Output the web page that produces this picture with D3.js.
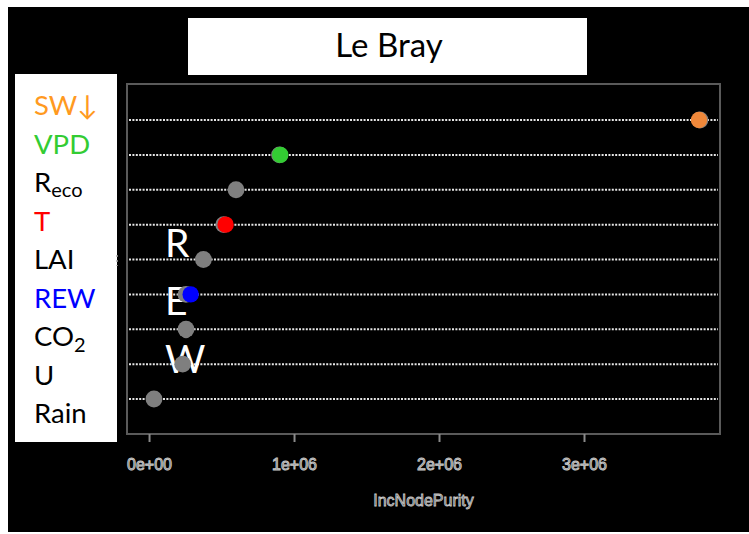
<!DOCTYPE html>
<html><head><meta charset="utf-8">
<script src="https://cdn.jsdelivr.net/npm/d3@7/dist/d3.min.js"></script>
<style>html,body{margin:0;padding:0;background:#fff;}svg{display:block;}</style>
</head><body>
<svg id="c" width="749" height="534"></svg>
<script>
// ---- data ----
const title = "Le Bray";
const variables = ["SW↓", "VPD", "Reco", "T", "LAI", "REW", "CO2", "U", "Rain"];
const labelColors = ["#FF9A1F", "#33CC33", "#000000", "#FF0000", "#000000", "#0000FF", "#000000", "#000000", "#000000"];
// gray (base) points, IncNodePurity
const grayValues = [3.80e6, 0.90e6, 0.60e6, 0.515e6, 0.375e6, 0.255e6, 0.255e6, 0.232e6, 0.034e6];
// coloured overlay points
const overlayVars = ["SW↓", "VPD", "T", "REW"];
const overlayValues = [3.793e6, 0.905e6, 0.528e6, 0.287e6];
const overlayColors = ["#F0883A", "#33CC33", "#FF0000", "#0000FF"];
const xTicks = [0, 1e6, 2e6, 3e6];
const xTickLabels = ["0e+00", "1e+06", "2e+06", "3e+06"];
const xTitle = "IncNodePurity";
const sideLetters = ["R", "E", "W"];

(function () {
const svg = d3.select("#c");
// black background
svg.append("rect").attr("x", 8).attr("y", 7).attr("width", 741).attr("height", 525).attr("fill", "#000");

// title box
svg.append("rect").attr("x", 188).attr("y", 18).attr("width", 399).attr("height", 57).attr("fill", "#fff");
svg.append("text").attr("x", 389).attr("y", 57).attr("text-anchor", "middle")
  .attr("font-family", "Lato, 'Open Sans', sans-serif").attr("font-size", 33).attr("fill", "#000").text(title);

// legend box
svg.append("rect").attr("x", 15).attr("y", 74).attr("width", 102).attr("height", 368).attr("fill", "#fff");
const lab = svg.append("g").attr("font-family", "Lato, 'Open Sans', sans-serif").attr("font-size", 27.5);
variables.forEach((v, i) => {
  const t = lab.append("text").attr("x", 34).attr("y", 115 + i * 38.5).attr("fill", labelColors[i]);
  if (v === "Reco") {
    t.append("tspan").text("R");
    t.append("tspan").attr("font-size", 20).attr("dy", 5).text("eco");
  } else if (v === "CO2") {
    t.append("tspan").text("CO");
    t.append("tspan").attr("font-size", 20).attr("dy", 6).text("2");
  } else {
    t.text(v);
  }
});

// plot panel
const pL = 127, pR = 720, pT = 84, pB = 434;
const x = d3.scaleLinear().domain([-0.152e6, 3.938e6]).range([pL, pR]);
const y = d3.scalePoint().domain(variables).range([120, 399]);

// dotted rows
svg.append("g").selectAll("line").data(variables).join("line")
  .attr("x1", pL + 2).attr("x2", pR - 2)
  .attr("y1", d => y(d)).attr("y2", d => y(d))
  .attr("stroke", "#e6e6e6").attr("stroke-width", 2).attr("stroke-dasharray", "2,1.4");

// panel border
svg.append("rect").attr("x", pL).attr("y", pT).attr("width", pR - pL).attr("height", pB - pT)
  .attr("fill", "none").attr("stroke", "#5a5a5a").attr("stroke-width", 2);

// small stray mark left of panel
svg.append("line").attr("x1", 117).attr("x2", 117).attr("y1", 255).attr("y2", 266)
  .attr("stroke", "#aaa").attr("stroke-width", 1.5).attr("stroke-dasharray", "2,3");

// big letters R E W (drawn under the points)
svg.append("g").selectAll("text").data(sideLetters).join("text")
  .attr("x", 165).attr("y", (d, i) => 257 + i * 58)
  .attr("font-family", "Lato, 'Open Sans', sans-serif").attr("font-size", 39).attr("fill", "#fff")
  .text(d => d);

// gray points
svg.append("g").selectAll("circle").data(variables).join("circle")
  .attr("cx", (d, i) => x(grayValues[i])).attr("cy", d => y(d)).attr("r", 8.4)
  .attr("fill", "#7f7f7f");
// small tail under CO2 point
svg.append("circle").attr("cx", x(grayValues[6])).attr("cy", y("CO2") + 5).attr("r", 4).attr("fill", "#7f7f7f");

// coloured points
svg.append("g").selectAll("circle").data(overlayVars).join("circle")
  .attr("cx", (d, i) => x(overlayValues[i])).attr("cy", d => y(d)).attr("r", 8.2)
  .attr("fill", (d, i) => overlayColors[i]);

// x axis
const ax = svg.append("g").attr("transform", `translate(0,${pB})`)
  .call(d3.axisBottom(x).tickValues(xTicks).tickFormat((d, i) => xTickLabels[i]).tickSize(8).tickSizeOuter(0));
ax.select(".domain").remove();
ax.selectAll(".tick line").attr("stroke", "#8a8a8a").attr("stroke-width", 2);
ax.selectAll(".tick text").attr("dy", 0).attr("y", 36)
  .attr("font-family", "'Liberation Sans', Arial, sans-serif").attr("font-size", 16)
  .attr("fill", "#555").attr("stroke", "#c8c8c8").attr("stroke-width", 0.9);

svg.append("text").attr("x", (pL + pR) / 2).attr("y", 506).attr("text-anchor", "middle")
  .attr("font-family", "'Liberation Sans', Arial, sans-serif").attr("font-size", 16)
  .attr("fill", "#555").attr("stroke", "#c8c8c8").attr("stroke-width", 0.8).text(xTitle);
})();
</script>
</body></html>
